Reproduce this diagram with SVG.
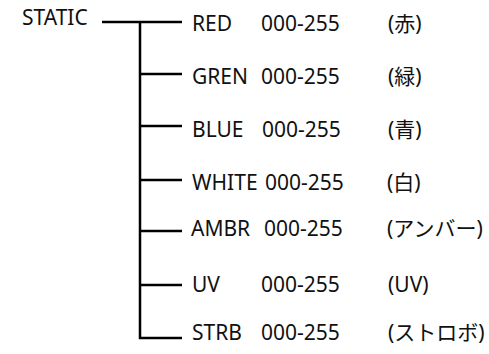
<svg xmlns="http://www.w3.org/2000/svg" width="489" height="354" viewBox="0 0 489 354">
<style>
text{font-family:"Noto Sans","Open Sans","Noto Sans CJK JP",sans-serif;font-size:21px;fill:#111}
.c{stroke:#000;stroke-width:2.5;fill:none;stroke-linecap:butt}
</style>
<rect width="489" height="354" fill="#fff"/>
<g id="connectors">
<path class="c" d="M102 22H182M140 22V338H182M140 74H182M140 126H182M140 180H182M140 231H182M140 285H182"/>
</g>
<g id="static"><text x="22" y="25">STATIC</text></g>
<g id="red"><text x="192" y="31">RED</text><text x="261" y="31">000-255</text><text x="388" y="31">(赤)</text></g>
<g id="gren"><text x="192" y="84">GREN</text><text x="261" y="84">000-255</text><text x="388" y="84">(緑)</text></g>
<g id="blue"><text x="192" y="137">BLUE</text><text x="262" y="137">000-255</text><text x="388" y="137">(青)</text></g>
<g id="white"><text x="192" y="190">WHITE</text><text x="265" y="190">000-255</text><text x="387" y="190">(白)</text></g>
<g id="ambr"><text x="191" y="236">AMBR</text><text x="264" y="236">000-255</text><text x="387" y="236">(アンバー)</text></g>
<g id="uv"><text x="192" y="292">UV</text><text x="261" y="292">000-255</text><text x="388" y="292">(UV)</text></g>
<g id="strb"><text x="192" y="340">STRB</text><text x="261" y="340">000-255</text><text x="388" y="340">(ストロボ)</text></g>
</svg>
